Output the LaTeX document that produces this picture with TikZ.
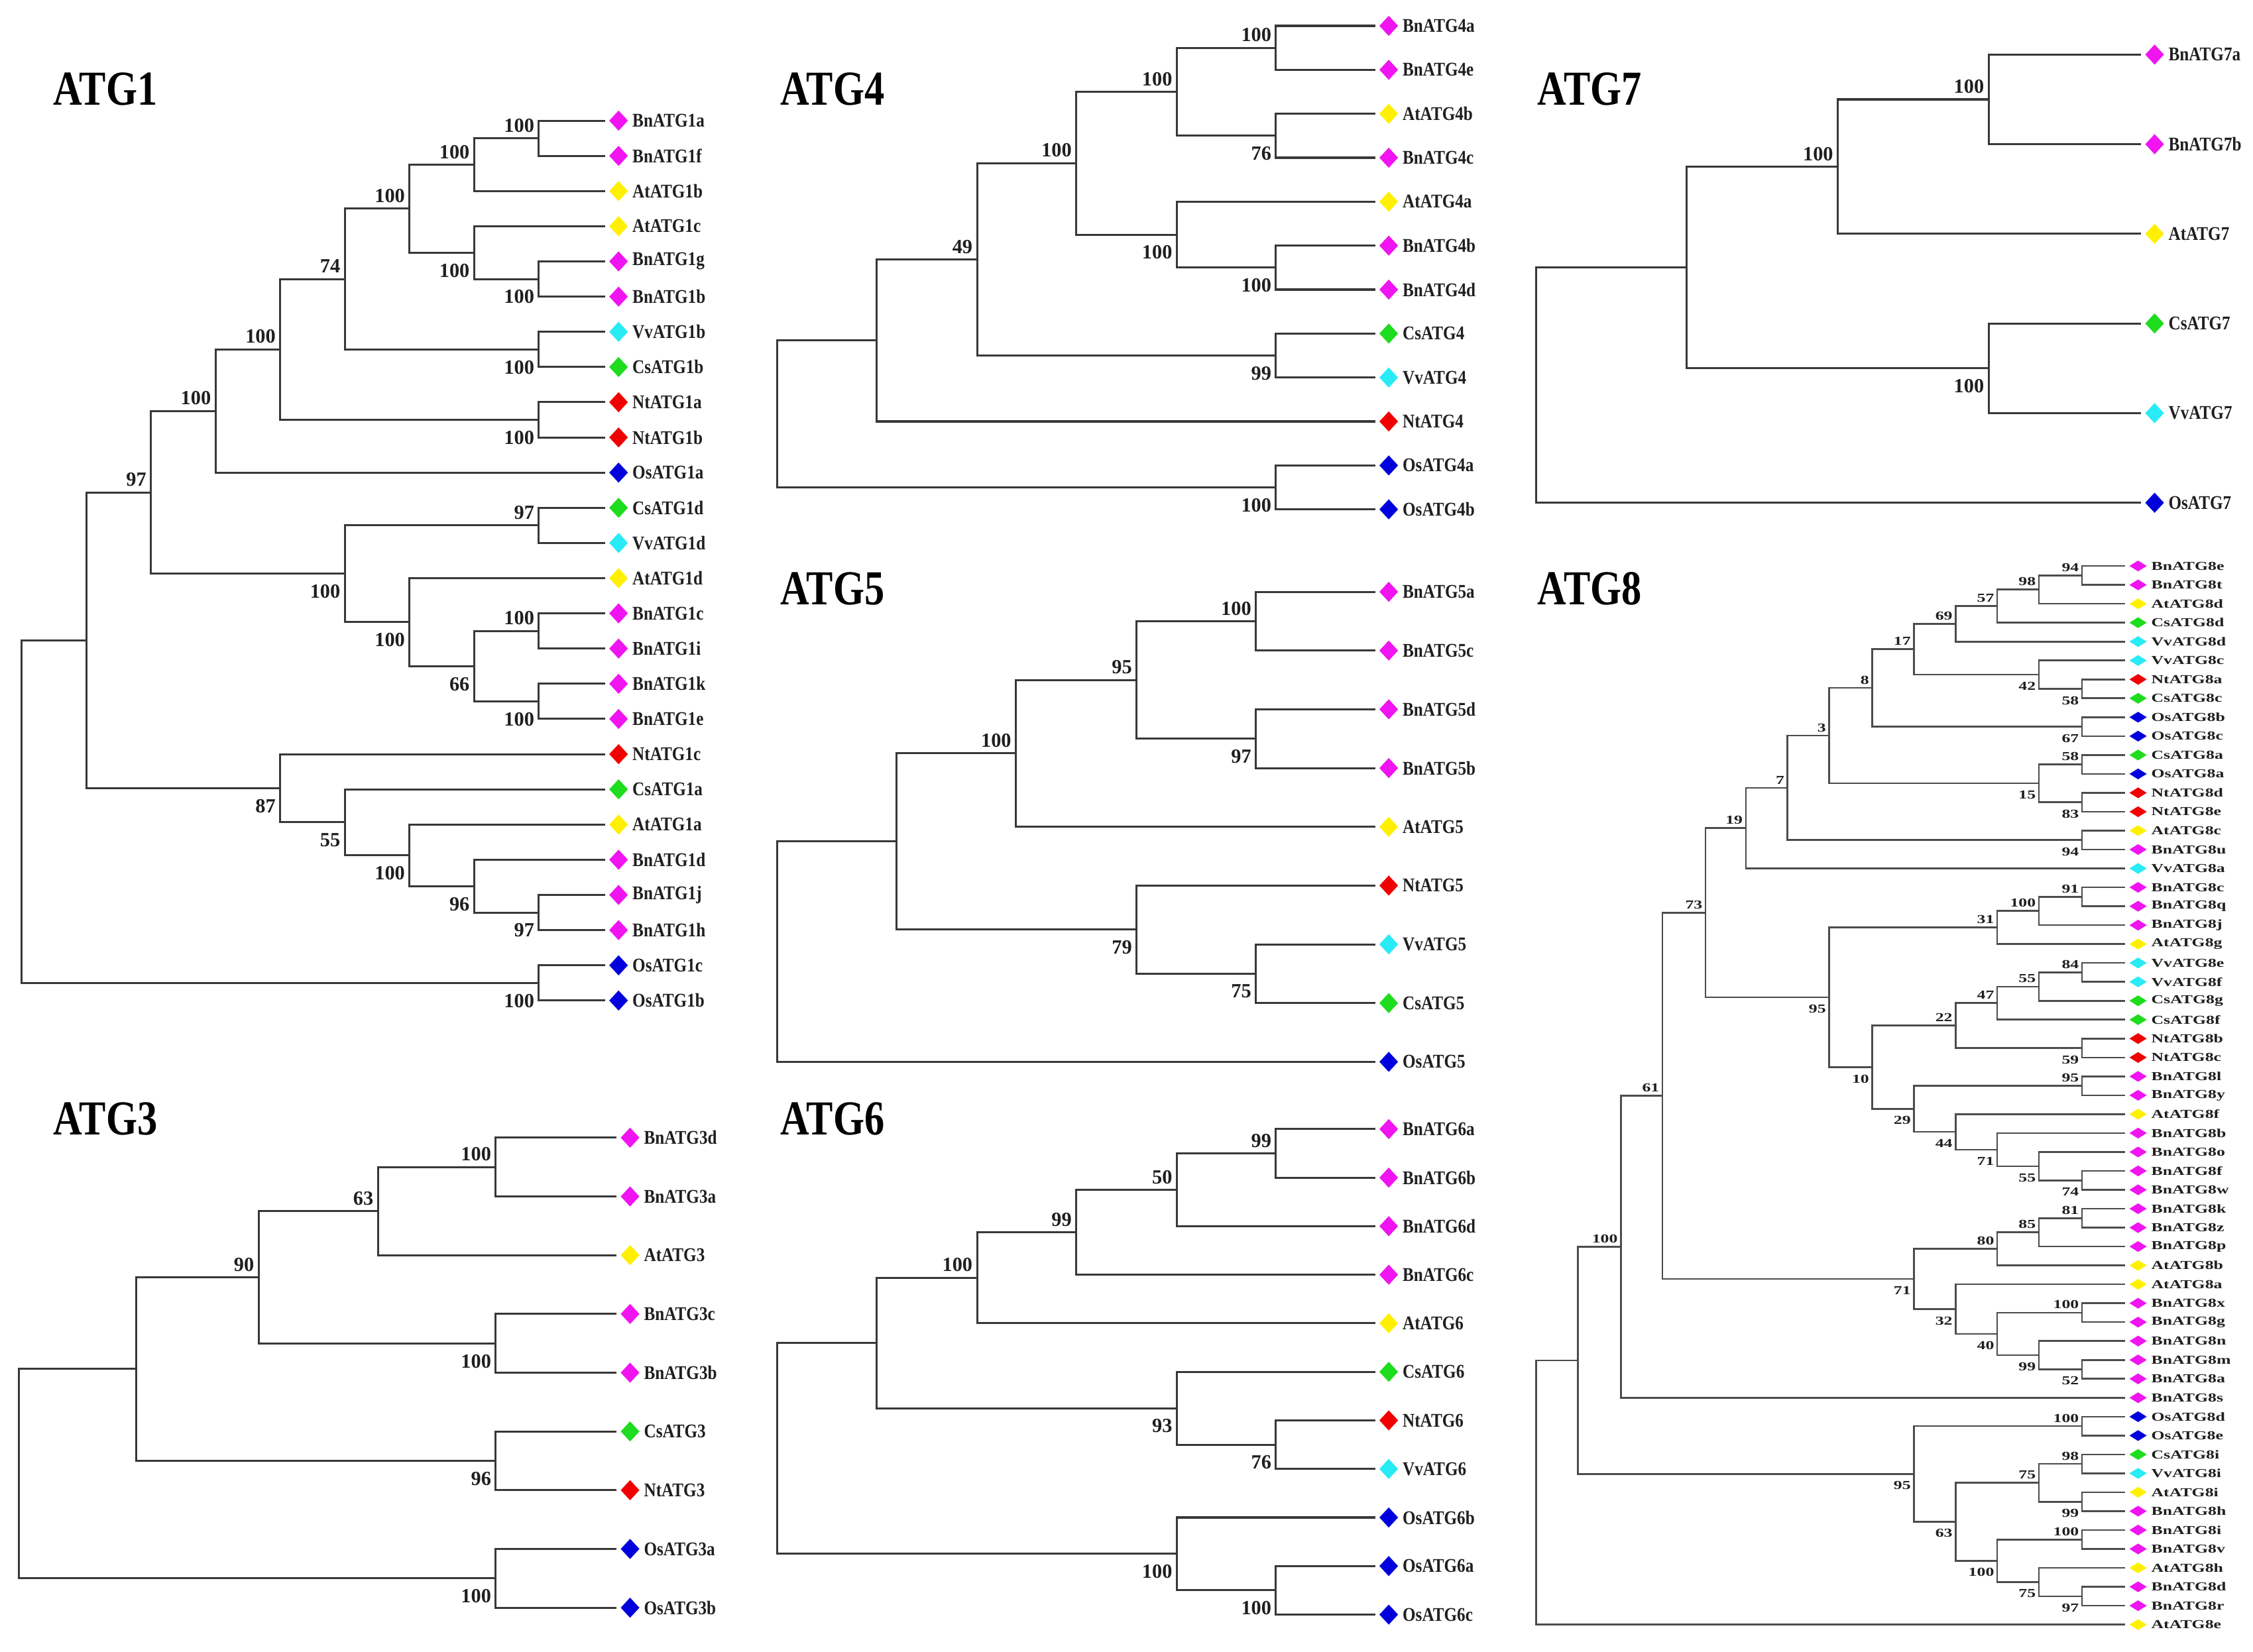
\documentclass[tikz,border=0pt]{standalone}
\usepackage{fontspec}
\setmainfont{Liberation Serif}
\newfontfamily\headfont{Liberation Serif}[FakeStretch=0.82]
\newfontfamily\tagfont{Liberation Serif}[FakeStretch=0.86]
\newfontfamily\widefont{Liberation Serif}[FakeStretch=1.4]
\usetikzlibrary{calc,positioning,shapes.geometric}

\definecolor{cBn}{RGB}{240,20,240}
\definecolor{cAt}{RGB}{255,240,0}
\definecolor{cVv}{RGB}{40,235,245}
\definecolor{cCs}{RGB}{30,220,30}
\definecolor{cNt}{RGB}{240,0,0}
\definecolor{cOs}{RGB}{0,0,220}

% leaf: branch end, diamond, name
\newcommand\lf[4]{%
  \edef\lfcol{c#4}%
  \coordinate (#1) at (#2,#3);
  \node[gem,fill=\lfcol,right=3pt of #1] (#1-g) {};
  \node[tag,right=3pt of #1-g] (#1-t) {#1};}
% clade: name, x, upper child, lower child, support, side
\newcommand\cl[6]{%
  \path let \p1=(#3), \p2=(#4) in ({#2pt},{0.5*(\y1+\y2)}) coordinate (#1);
  \draw[br] (#3) -| (#1) |- (#4);
  \if\relax\detokenize{#5}\relax\else\node[bs,#6] at (#1) {#5};\fi}

\begin{document}
\begin{tikzpicture}
      [x=1pt,y=-1pt
      ,br/.style={draw=black!78,line width=1.4pt}
      ,gem/.style={diamond,draw=none,inner sep=0,outer sep=0,minimum width=13,minimum height=14}
      ,tag/.style={inner sep=0,text=black!88,font=\tagfont\bfseries\fontsize{13.5}{14}\selectfont}
      ,bs/.style={inner xsep=3pt,inner ysep=0pt,text=black!88,font=\bfseries\fontsize{14}{14}\selectfont}
      ,bsup/.style={anchor=south east,yshift=4pt}
      ,bsdn/.style={anchor=north east,yshift=-7.5pt}
      ,head/.style={anchor=base west,inner sep=0,font=\headfont\bfseries\fontsize{34}{34}\selectfont}]
        \fill[white] (0,0) rectangle (1568,1150);
        \useasboundingbox (0,0) rectangle (1568,1150);
        \node[head] (h1) at (37,73) {ATG1};
        \node[head] (h4) at (543,73) {ATG4};
        \node[head] (h7) at (1070,73) {ATG7};
        \node[head] (h5) at (543,421) {ATG5};
        \node[head] (h8) at (1070,421) {ATG8};
        \node[head] (h3) at (37,790) {ATG3};
        \node[head] (h6) at (543,790) {ATG6};
        % ATG1
        \foreach \spc/\gid [count=\i from 0] in {Bn/ATG1a,Bn/ATG1f,At/ATG1b,At/ATG1c,Bn/ATG1g,Bn/ATG1b,
            Vv/ATG1b,Cs/ATG1b,Nt/ATG1a,Nt/ATG1b,Os/ATG1a,Cs/ATG1d,Vv/ATG1d,At/ATG1d,Bn/ATG1c,Bn/ATG1i,
            Bn/ATG1k,Bn/ATG1e,Nt/ATG1c,Cs/ATG1a,At/ATG1a,Bn/ATG1d,Bn/ATG1j,Bn/ATG1h,Os/ATG1c,Os/ATG1b}
          {\lf{\spc\gid}{421}{84+24.5*\i}{\spc}}
        \cl{p1}{375}{BnATG1a}{BnATG1f}{100}{bsup}
        \cl{p2}{330}{p1}{AtATG1b}{100}{bsup}
        \cl{p3}{375}{BnATG1g}{BnATG1b}{100}{bsdn}
        \cl{p4}{330}{AtATG1c}{p3}{100}{bsdn}
        \cl{p5}{285}{p2}{p4}{100}{bsup}
        \cl{p6}{375}{VvATG1b}{CsATG1b}{100}{bsdn}
        \cl{p7}{240}{p5}{p6}{74}{bsup}
        \cl{p8}{375}{NtATG1a}{NtATG1b}{100}{bsdn}
        \cl{p9}{195}{p7}{p8}{100}{bsup}
        \cl{p10}{150}{p9}{OsATG1a}{100}{bsup}
        \cl{p11}{375}{CsATG1d}{VvATG1d}{97}{bsup}
        \cl{p12}{375}{BnATG1c}{BnATG1i}{100}{bsup}
        \cl{p13}{375}{BnATG1k}{BnATG1e}{100}{bsdn}
        \cl{p14}{330}{p12}{p13}{66}{bsdn}
        \cl{p15}{285}{AtATG1d}{p14}{100}{bsdn}
        \cl{p16}{240}{p11}{p15}{100}{bsdn}
        \cl{p17}{105}{p10}{p16}{97}{bsup}
        \cl{p18}{375}{BnATG1j}{BnATG1h}{97}{bsdn}
        \cl{p19}{330}{BnATG1d}{p18}{96}{bsdn}
        \cl{p20}{285}{AtATG1a}{p19}{100}{bsdn}
        \cl{p21}{240}{CsATG1a}{p20}{55}{bsdn}
        \cl{p22}{195}{NtATG1c}{p21}{87}{bsdn}
        \cl{p23}{60}{p17}{p22}{}{}
        \cl{p24}{375}{OsATG1c}{OsATG1b}{100}{bsdn}
        \cl{p25}{15}{p23}{p24}{}{}
        % ATG3
        \foreach \spc/\gid [count=\i from 0] in {Bn/ATG3d,Bn/ATG3a,At/ATG3,Bn/ATG3c,Bn/ATG3b,
            Cs/ATG3,Nt/ATG3,Os/ATG3a,Os/ATG3b}
          {\lf{\spc\gid}{429}{792+40.9*\i}{\spc}}
        \cl{q1}{345}{BnATG3d}{BnATG3a}{100}{bsup}
        \cl{q2}{263}{q1}{AtATG3}{63}{bsup}
        \cl{q3}{345}{BnATG3c}{BnATG3b}{100}{bsdn}
        \cl{q4}{180}{q2}{q3}{90}{bsup}
        \cl{q5}{345}{CsATG3}{NtATG3}{96}{bsdn}
        \cl{q6}{95}{q4}{q5}{}{}
        \cl{q7}{345}{OsATG3a}{OsATG3b}{100}{bsdn}
        \cl{q8}{13}{q6}{q7}{}{}
        % ATG4
        \foreach \spc/\gid [count=\i from 0] in {Bn/ATG4a,Bn/ATG4e,At/ATG4b,Bn/ATG4c,At/ATG4a,Bn/ATG4b,
            Bn/ATG4d,Cs/ATG4,Vv/ATG4,Nt/ATG4,Os/ATG4a,Os/ATG4b}
          {\lf{\spc\gid}{957}{18+30.6*\i}{\spc}}
        \cl{r1}{888}{BnATG4a}{BnATG4e}{100}{bsup}
        \cl{r2}{888}{AtATG4b}{BnATG4c}{76}{bsdn}
        \cl{r3}{819}{r1}{r2}{100}{bsup}
        \cl{r4}{888}{BnATG4b}{BnATG4d}{100}{bsdn}
        \cl{r5}{819}{AtATG4a}{r4}{100}{bsdn}
        \cl{r6}{749}{r3}{r5}{100}{bsup}
        \cl{r7}{888}{CsATG4}{VvATG4}{99}{bsdn}
        \cl{r8}{680}{r6}{r7}{49}{bsup}
        \cl{r9}{610}{r8}{NtATG4}{}{}
        \cl{r10}{888}{OsATG4a}{OsATG4b}{100}{bsdn}
        \cl{r11}{541}{r9}{r10}{}{}
        % ATG5
        \foreach \spc/\gid [count=\i from 0] in {Bn/ATG5a,Bn/ATG5c,Bn/ATG5d,Bn/ATG5b,At/ATG5,
            Nt/ATG5,Vv/ATG5,Cs/ATG5,Os/ATG5}
          {\lf{\spc\gid}{957}{412+40.9*\i}{\spc}}
        \cl{s1}{874}{BnATG5a}{BnATG5c}{100}{bsup}
        \cl{s2}{874}{BnATG5d}{BnATG5b}{97}{bsdn}
        \cl{s3}{791}{s1}{s2}{95}{bsup}
        \cl{s4}{707}{s3}{AtATG5}{100}{bsup}
        \cl{s5}{874}{VvATG5}{CsATG5}{75}{bsdn}
        \cl{s6}{791}{NtATG5}{s5}{79}{bsdn}
        \cl{s7}{624}{s4}{s6}{}{}
        \cl{s8}{541}{s7}{OsATG5}{}{}
        % ATG6
        \foreach \spc/\gid [count=\i from 0] in {Bn/ATG6a,Bn/ATG6b,Bn/ATG6d,Bn/ATG6c,At/ATG6,Cs/ATG6,
            Nt/ATG6,Vv/ATG6,Os/ATG6b,Os/ATG6a,Os/ATG6c}
          {\lf{\spc\gid}{957}{786+33.8*\i}{\spc}}
        \cl{t1}{888}{BnATG6a}{BnATG6b}{99}{bsup}
        \cl{t2}{819}{t1}{BnATG6d}{50}{bsup}
        \cl{t3}{749}{t2}{BnATG6c}{99}{bsup}
        \cl{t4}{680}{t3}{AtATG6}{100}{bsup}
        \cl{t5}{888}{NtATG6}{VvATG6}{76}{bsdn}
        \cl{t6}{819}{CsATG6}{t5}{93}{bsdn}
        \cl{t7}{610}{t4}{t6}{}{}
        \cl{t8}{888}{OsATG6a}{OsATG6c}{100}{bsdn}
        \cl{t9}{819}{OsATG6b}{t8}{100}{bsdn}
        \cl{t10}{541}{t7}{t9}{}{}
        % ATG7
        \foreach \spc/\gid [count=\i from 0] in {Bn/ATG7a,Bn/ATG7b,At/ATG7,Cs/ATG7,Vv/ATG7,Os/ATG7}
          {\lf{\spc\gid}{1490}{38+62.4*\i}{\spc}}
        \cl{u1}{1384}{BnATG7a}{BnATG7b}{100}{bsup}
        \cl{u2}{1279}{u1}{AtATG7}{100}{bsup}
        \cl{u3}{1384}{CsATG7}{VvATG7}{100}{bsdn}
        \cl{u4}{1174}{u2}{u3}{}{}
        \cl{u5}{1069}{u4}{OsATG7}{}{}
        % ATG8
        \begin{scope}
          [br/.style={draw=black!70,line width=1.2pt}
          ,gem/.style={diamond,draw=none,inner sep=0,outer sep=0,minimum width=12,minimum height=7.5}
          ,tag/.style={inner sep=0,text=black!88,font=\widefont\bfseries\fontsize{8.5}{9}\selectfont}
          ,bs/.style={inner xsep=2pt,inner ysep=0pt,text=black!88,font=\widefont\bfseries\fontsize{8.5}{9}\selectfont}
          ,bsup/.style={anchor=south east,yshift=2.5pt}
          ,bsdn/.style={anchor=north east,yshift=-5pt}]
        \foreach \spc/\gid [count=\i from 0] in {Bn/ATG8e,Bn/ATG8t,At/ATG8d,Cs/ATG8d,Vv/ATG8d,Vv/ATG8c,
            Nt/ATG8a,Cs/ATG8c,Os/ATG8b,Os/ATG8c,Cs/ATG8a,Os/ATG8a,Nt/ATG8d,Nt/ATG8e,At/ATG8c,Bn/ATG8u,
            Vv/ATG8a,Bn/ATG8c,Bn/ATG8q,Bn/ATG8j,At/ATG8g,Vv/ATG8e,Vv/ATG8f,Cs/ATG8g,Cs/ATG8f,Nt/ATG8b,
            Nt/ATG8c,Bn/ATG8l,Bn/ATG8y,At/ATG8f,Bn/ATG8b,Bn/ATG8o,Bn/ATG8f,Bn/ATG8w,Bn/ATG8k,Bn/ATG8z,
            Bn/ATG8p,At/ATG8b,At/ATG8a,Bn/ATG8x,Bn/ATG8g,Bn/ATG8n,Bn/ATG8m,Bn/ATG8a,Bn/ATG8s,Os/ATG8d,
            Os/ATG8e,Cs/ATG8i,Vv/ATG8i,At/ATG8i,Bn/ATG8h,Bn/ATG8i,Bn/ATG8v,At/ATG8h,Bn/ATG8d,Bn/ATG8r,
            At/ATG8e}
          {\lf{\spc\gid}{1479}{394+13.16*\i}{\spc}}
        \cl{v1}{1449}{BnATG8e}{BnATG8t}{94}{bsup}
        \cl{v2}{1419}{v1}{AtATG8d}{98}{bsup}
        \cl{v3}{1390}{v2}{CsATG8d}{57}{bsup}
        \cl{v4}{1361}{v3}{VvATG8d}{69}{bsup}
        \cl{v5}{1449}{NtATG8a}{CsATG8c}{58}{bsdn}
        \cl{v6}{1419}{VvATG8c}{v5}{42}{bsdn}
        \cl{v7}{1332}{v4}{v6}{17}{bsup}
        \cl{v8}{1449}{OsATG8b}{OsATG8c}{67}{bsdn}
        \cl{v9}{1303}{v7}{v8}{8}{bsup}
        \cl{v10}{1449}{CsATG8a}{OsATG8a}{58}{bsup}
        \cl{v11}{1449}{NtATG8d}{NtATG8e}{83}{bsdn}
        \cl{v12}{1419}{v10}{v11}{15}{bsdn}
        \cl{v13}{1273}{v9}{v12}{3}{bsup}
        \cl{v14}{1449}{AtATG8c}{BnATG8u}{94}{bsdn}
        \cl{v15}{1244}{v13}{v14}{7}{bsup}
        \cl{v16}{1215}{v15}{VvATG8a}{19}{bsup}
        \cl{v17}{1449}{BnATG8c}{BnATG8q}{91}{bsup}
        \cl{v18}{1419}{v17}{BnATG8j}{100}{bsup}
        \cl{v19}{1390}{v18}{AtATG8g}{31}{bsup}
        \cl{v20}{1449}{VvATG8e}{VvATG8f}{84}{bsup}
        \cl{v21}{1419}{v20}{CsATG8g}{55}{bsup}
        \cl{v22}{1390}{v21}{CsATG8f}{47}{bsup}
        \cl{v23}{1449}{NtATG8b}{NtATG8c}{59}{bsdn}
        \cl{v24}{1361}{v22}{v23}{22}{bsup}
        \cl{v25}{1449}{BnATG8l}{BnATG8y}{95}{bsup}
        \cl{v26}{1449}{BnATG8f}{BnATG8w}{74}{bsdn}
        \cl{v27}{1419}{BnATG8o}{v26}{55}{bsdn}
        \cl{v28}{1390}{BnATG8b}{v27}{71}{bsdn}
        \cl{v29}{1361}{AtATG8f}{v28}{44}{bsdn}
        \cl{v30}{1332}{v25}{v29}{29}{bsdn}
        \cl{v31}{1303}{v24}{v30}{10}{bsdn}
        \cl{v32}{1273}{v19}{v31}{95}{bsdn}
        \cl{v33}{1187}{v16}{v32}{73}{bsup}
        \cl{v34}{1449}{BnATG8k}{BnATG8z}{81}{bsup}
        \cl{v35}{1419}{v34}{BnATG8p}{85}{bsup}
        \cl{v36}{1390}{v35}{AtATG8b}{80}{bsup}
        \cl{v37}{1449}{BnATG8x}{BnATG8g}{100}{bsup}
        \cl{v38}{1449}{BnATG8m}{BnATG8a}{52}{bsdn}
        \cl{v39}{1419}{BnATG8n}{v38}{99}{bsdn}
        \cl{v40}{1390}{v37}{v39}{40}{bsdn}
        \cl{v41}{1361}{AtATG8a}{v40}{32}{bsdn}
        \cl{v42}{1332}{v36}{v41}{71}{bsdn}
        \cl{v43}{1157}{v33}{v42}{61}{bsup}
        \cl{v44}{1128}{v43}{BnATG8s}{100}{bsup}
        \cl{v45}{1449}{OsATG8d}{OsATG8e}{100}{bsup}
        \cl{v46}{1449}{CsATG8i}{VvATG8i}{98}{bsup}
        \cl{v47}{1449}{AtATG8i}{BnATG8h}{99}{bsdn}
        \cl{v48}{1419}{v46}{v47}{75}{bsup}
        \cl{v49}{1449}{BnATG8i}{BnATG8v}{100}{bsup}
        \cl{v50}{1449}{BnATG8d}{BnATG8r}{97}{bsdn}
        \cl{v51}{1419}{AtATG8h}{v50}{75}{bsdn}
        \cl{v52}{1390}{v49}{v51}{100}{bsdn}
        \cl{v53}{1361}{v48}{v52}{63}{bsdn}
        \cl{v54}{1332}{v45}{v53}{95}{bsdn}
        \cl{v55}{1098}{v44}{v54}{}{}
        \cl{v56}{1069}{v55}{AtATG8e}{}{}
        \end{scope}
      \end{tikzpicture}
\end{document}
